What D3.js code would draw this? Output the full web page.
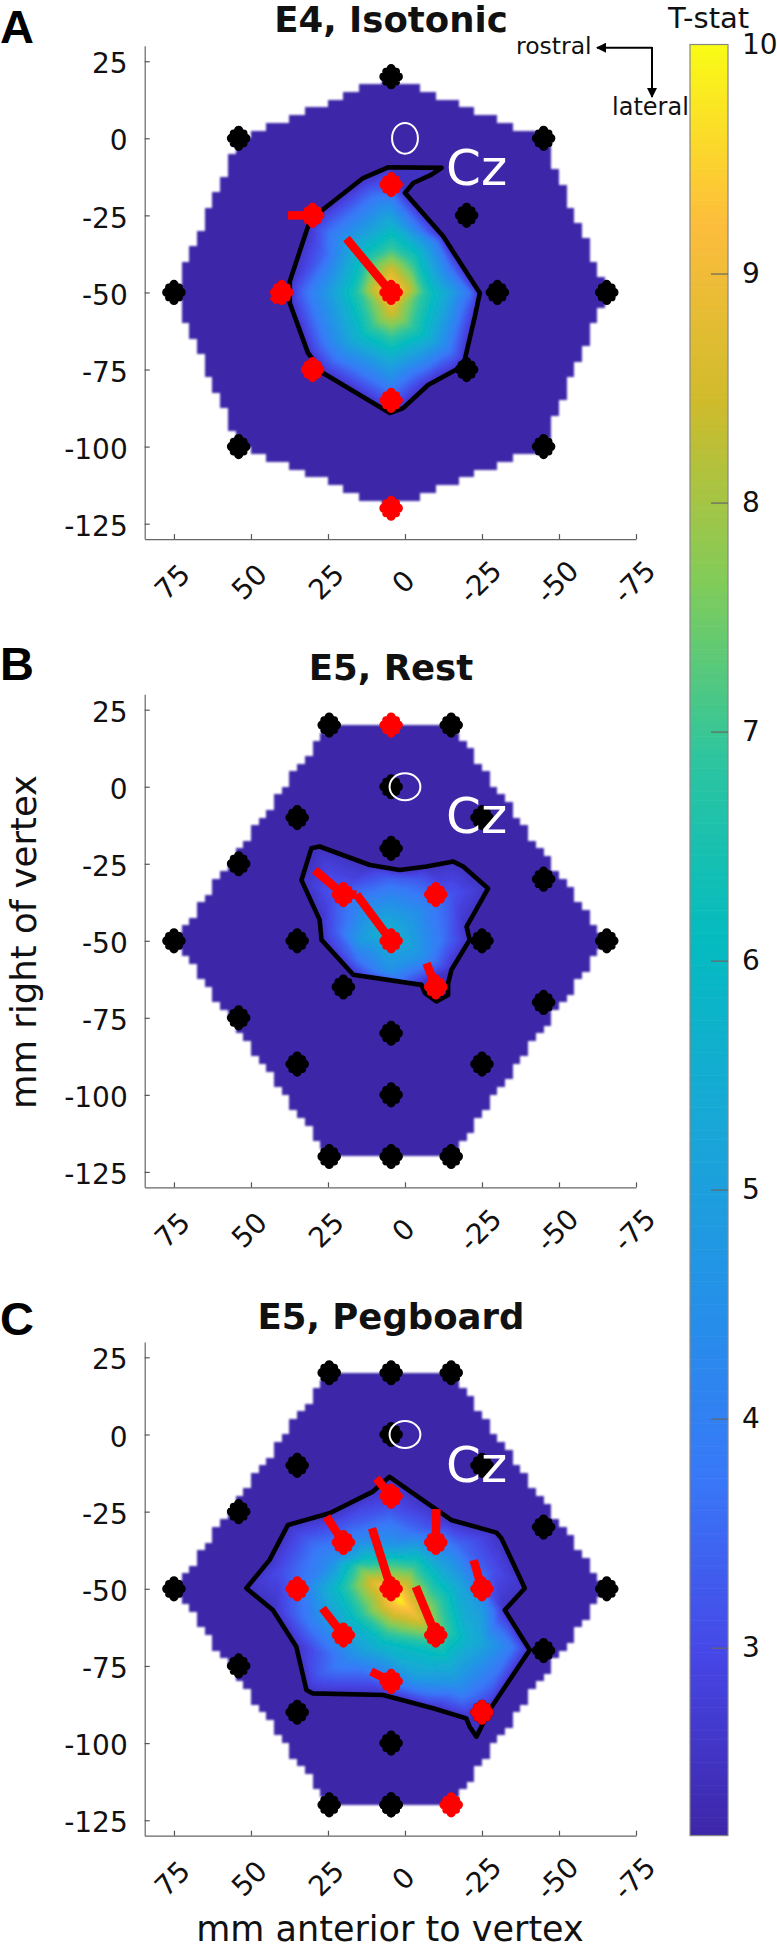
<!DOCTYPE html>
<html><head><meta charset="utf-8">
<style>html,body{margin:0;padding:0;background:#fff}svg{display:block}text{font-family:"DejaVu Sans",sans-serif;fill:#111}</style>
<script src="https://cdn.jsdelivr.net/npm/d3@7"></script>
</head><body><svg id="c" width="777" height="1950"></svg>
<script>
const xTicks=[75,50,25,0,-25,-50,-75];
const yTicks=[25,0,-25,-50,-75,-100,-125];
const cbarTicks=[3,4,5,6,7,8,9,10];
const cbarMin=2.18, cbarMax=10;
const parulaStops=["#3e26a8","#4646e6","#3878f8","#2491e8","#18a8d6","#04bbc0","#2cc5a0","#81cc59","#cfbb2b","#fdbd3c","#f9fb15"];

// Panel A
const blackA=[[4.5,20],[54,0],[-45,0],[-20,-25],[75,-50],[-30,-50],[-65.5,-50],[-20,-75],[54,-100],[-45,-100]];
const redA=[[4.5,-15],[30,-25],[4.5,-50],[40,-50],[30,-75],[4.5,-85],[4.5,-120]];
const arrowsA=[[[30,-25],[38,-25]],[[4.5,-50],[19,-32.5]],[[40,-50],[43,-53]]];
const contourA=[[5.5,-9.4],[-11.9,-9.6],[-8.6,-11.8],[-2.7,-14.5],[0,-17.7],[-12.4,-31.8],[-24.3,-50.2],[-22.7,-57.7],[-19.4,-71.8],[-16.7,-75],[-7.5,-80],[0.6,-87.5],[4.9,-89.1],[26.6,-76.1],[31.5,-69.6],[37.4,-53.4],[37.4,-46.4],[31.5,-28.6],[26.6,-23.1],[13.6,-12.9]];
const tstatA=[[4.5,-49,9.5],[4.5,-43,8.6],[4.5,-56,8.6],[10,-49,8.5],[-1,-49,8.5],[4.5,-36,7],[4.5,-28,5.6],[4.5,-19,3.9],[4.5,-64,7],[4.5,-72,5.4],[4.5,-81,3.9],[16,-50,6.6],[24,-50,5],[32,-50,3.7],[-7,-50,6.6],[-15,-50,5],[-21,-50,3.7],[14,-37,6],[-4,-37,6],[14,-64,6],[-6,-64,6],[22,-32,4.2],[-10,-34,4],[24,-66,4.2],[-14,-68,4],[26,-38,3.5],[-15,-42,3.6]];

// Panel B
const blackBC=[[24.6,20],[-15,20],[4.5,0],[35,-10],[-25,-10],[54,-25],[-45,-30],[75,-50],[-65.5,-50],[54,-75],[-45,-70],[35,-90],[-25,-90],[4.5,-100],[24.6,-120],[4.5,-120]];
const blackB=[[4.5,-20],[35,-50],[-25,-50],[20,-65],[4.5,-80],[-15,-120]];
const redB=[[4.5,20],[20,-35],[-10,-35],[4.5,-50],[-10,-65]];
const arrowsB=[[[4.5,-50],[15.7,-35]],[[15.7,-35],[20,-35]],[[20,-35],[29.3,-27]],[[-10,-65],[-7,-57.3]]];
const contourB=[[30.4,-20],[27.7,-19.4],[11.4,-25.4],[1.7,-27],[-7,-25.9],[-15.7,-24.3],[-18.9,-25.9],[-27,-33],[-20,-45.4],[-21,-49.7],[-15.1,-59.4],[-14,-63.8],[-14,-67.6],[-10.2,-69.7],[-6.5,-67],[-5.4,-64.3],[16.8,-61],[27.1,-49.7],[27.7,-43.2],[33.6,-30.3]];
const tstatB=[[7,-47,5.7],[0,-50,5.3],[15,-50,4.8],[22,-47,3.4],[5,-60,4.5],[-5,-55,4.6],[-12,-50,3.7],[-5,-40,4.3],[5,-37,4.4],[15,-38,4.1],[22,-35,3.3],[-5,-30,3.2],[5,-30,3.4],[-15,-35,3.2],[15,-57,3.6]];

// Panel C
const blackC=[[4.5,20],[4.5,-120]];
const redC=[[4.5,-20],[20,-35],[-10,-35],[35,-50],[4.5,-50],[-25,-50],[20,-65],[-10,-65],[4.5,-80],[-25,-90],[-15,-120]];
const arrowsC=[[[4.5,-20],[9.3,-14.2]],[[20,-35],[25.5,-26.6]],[[-10,-35],[-10.2,-24.2]],[[4.5,-50],[10.7,-30.4]],[[-25,-50],[-22.3,-40.7]],[[-10,-65],[-3.5,-49.3]],[[20,-65],[26.8,-56.3]],[[4.5,-80],[11,-76.8]]];
const contourC=[[5,-13.7],[-8,-22.8],[-15,-27.7],[-29.7,-31.8],[-31.3,-33.6],[-38.9,-49.8],[-32.4,-56.9],[-40.5,-69.8],[-27.5,-89.2],[-23.2,-97.9],[-21,-94.7],[-19.9,-92],[-9.1,-88.7],[7.1,-84.4],[29.9,-83.9],[32,-82.8],[35.3,-68.7],[42.9,-56.9],[51.5,-49.8],[44,-40.7],[38,-29.3],[24.5,-25.5],[10.4,-18.5]];
const tstatC=[[1.7,-53.6,9.9],[6,-50,9.2],[-2,-57,9.2],[10,-48,8.8],[-3.7,-59,8.9],[14.7,-43,7.2],[22.3,-50,6],[-20,-66.6,5.7],[-12.4,-70,6.3],[-3.7,-41.7,6.6],[4,-41.7,6.9],[12.5,-39.6,5.9],[23.4,-40.7,4.4],[34,-49,3.7],[39.6,-44,3.1],[18,-60,5.8],[28.8,-60,4.2],[7,-67.6,6],[18,-73,4.2],[28.8,-78,3.2],[-3.7,-78.5,5],[-17.8,-81.7,4.4],[-28.6,-80.6,3.5],[-34,-68.7,4],[-25,-67.6,5.2],[-25,-57,4.9],[-17.8,-49,5.2],[-11.3,-44,5.5],[-23,-47,3.9],[-28.6,-44,3.1],[-17.8,-36,3.5],[-3.7,-31,3.5],[5,-24.5,3.2],[18,-30,3.4],[4,-36,4.7],[14.7,-33,4],[-9,-38.5,4.8]];

const contourEdgeT=2.5;
const czCentre=[0,0];

const panels=[
 {letter:"A",letterY:43,title:"E4, Isotonic",titleY:32,yRange:[45.8,539.1],black:blackA,red:redA,arrows:arrowsA,contour:contourA,tstat:tstatA,czY:184.5,rx:4.2,ry:5},
 {letter:"B",letterY:680,title:"E5, Rest",titleY:680,yRange:[694.3,1187.3],black:blackBC.concat(blackB),red:redB,arrows:arrowsB,contour:contourB,tstat:tstatB,czY:833,rx:5,ry:4.4},
 {letter:"C",letterY:1335,title:"E5, Pegboard",titleY:1329,yRange:[1341.9,1835.7],black:blackBC.concat(blackC),red:redC,arrows:arrowsC,contour:contourC,tstat:tstatC,czY:1481.5,rx:5,ry:4.4}
];

const svg=d3.select("#c");
const defs=svg.append("defs");
defs.append("filter").attr("id","soft").attr("x","-5%").attr("y","-5%").attr("width","110%").attr("height","110%")
  .append("feGaussianBlur").attr("stdDeviation",0.9);
const x=d3.scaleLinear().domain([84.5,-75]).range([144.7,636]);
const tNorm=d3.scaleLinear().domain([cbarMin,cbarMax]).range([0,1]).clamp(true);
const parula=d3.scaleSequential(d3.piecewise(d3.interpolateRgb,parulaStops));
const color=v=>parula(tNorm(v));

const blob={draw(ctx){
  const lobes=[[0,0,7.5],[-7,0,4.8],[7,0,4.8],[0,-8,4.6],[0,8,4.6],[-5,-5,3.9],[5,-5,3.9],[-5,5,3.9],[5,5,3.9]];
  lobes.forEach(([a,b,r])=>{ctx.moveTo(a+r,b);ctx.arc(a,b,r,0,2*Math.PI);});
}};
const blobPath=d3.symbol().type(blob)();

function styleAxis(g){
  g.selectAll("path.domain").attr("stroke","#666").attr("stroke-width",1.2);
  g.selectAll(".tick line").attr("stroke","#555").attr("stroke-width",1.2);
  g.selectAll("text").attr("font-family",'"DejaVu Sans",sans-serif').attr("font-size",28).attr("fill","#111");
}

panels.forEach(p=>{
  const y=d3.scaleLinear().domain([30,-130]).range(p.yRange);
  const g=svg.append("g");
  const all=p.black.concat(p.red);
  const hull=d3.polygonHull(all);
  let base="";const st=2.5;
  for(let gx=-80;gx<85;gx+=st)for(let gy=25;gy>-130;gy-=st){
    if(d3.polygonContains(hull,[gx+st/2,gy-st/2])){
      const a=Math.round(x(gx+st)),b=Math.round(x(gx)),c=Math.round(y(gy)),d=Math.round(y(gy-st));
      base+=`M${a},${c}H${b}V${d}H${a}Z`;
    }
  }
  const heat=g.append("g").attr("filter","url(#soft)");
  heat.append("path").attr("d",base).attr("fill",color(cbarMin));
  const nodes=p.tstat.concat(p.contour.map(c=>[c[0],c[1],contourEdgeT]));
  const del=d3.Delaunay.from(nodes,d=>d[0],d=>d[1]);
  const tri=del.triangles;
  function field(px,py){
    const n=del.find(px,py);
    let best=null;
    const test=(i)=>{
      const A=nodes[tri[i]],B=nodes[tri[i+1]],C=nodes[tri[i+2]];
      const D=(B[1]-C[1])*(A[0]-C[0])+(C[0]-B[0])*(A[1]-C[1]);
      const l1=((B[1]-C[1])*(px-C[0])+(C[0]-B[0])*(py-C[1]))/D;
      const l2=((C[1]-A[1])*(px-C[0])+(A[0]-C[0])*(py-C[1]))/D;
      const l3=1-l1-l2;
      if(l1>=-1e-6&&l2>=-1e-6&&l3>=-1e-6){best=l1*A[2]+l2*B[2]+l3*C[2];return true;}
      return false;
    };
    for(let i=0;i<tri.length;i+=3){if(tri[i]===n||tri[i+1]===n||tri[i+2]===n){if(test(i))return best;}}
    for(let i=0;i<tri.length;i+=3){if(test(i))return best;}
    return contourEdgeT;
  }
  const bins=new Map();
  const [x0,x1]=d3.extent(p.contour,d=>d[0]);
  const [y0,y1]=d3.extent(p.contour,d=>d[1]);
  const step=2;
  for(let px=Math.floor(x(x1));px<x(x0);px+=step)for(let py=Math.floor(y(y1));py<y(y0);py+=step){
    const dx=x.invert(px+step/2),dy=y.invert(py+step/2);
    if(!d3.polygonContains(p.contour,[dx,dy]))continue;
    const k=Math.round(field(dx,dy)*40)/40;
    if(!bins.has(k))bins.set(k,"");
    bins.set(k,bins.get(k)+`M${px},${py}h${step}v${step}h${-step}Z`);
  }
  heat.append("g").attr("shape-rendering","crispEdges").selectAll("path").data([...bins]).join("path")
    .attr("d",d=>d[1]).attr("fill",d=>color(d[0]));
  g.append("path").attr("d",d3.line().x(d=>x(d[0])).y(d=>y(d[1])).curve(d3.curveLinearClosed)(p.contour))
    .attr("fill","none").attr("stroke","#000").attr("stroke-width",4.6).attr("stroke-linejoin","round");
  g.append("g").selectAll("path").data(p.black).join("path")
    .attr("d",blobPath).attr("fill","#000").attr("transform",d=>`translate(${x(d[0])},${y(d[1])})`);
  g.append("g").selectAll("line").data(p.arrows).join("line")
    .attr("x1",d=>x(d[0][0])).attr("y1",d=>y(d[0][1])).attr("x2",d=>x(d[1][0])).attr("y2",d=>y(d[1][1]))
    .attr("stroke","#ff0000").attr("stroke-width",8.5);
  g.append("g").selectAll("path").data(p.red).join("path")
    .attr("d",blobPath).attr("fill","#ff0000").attr("transform",d=>`translate(${x(d[0])},${y(d[1])})`);
  g.append("ellipse").attr("cx",x(czCentre[0])).attr("cy",y(czCentre[1]))
    .attr("rx",x(0)-x(p.rx)).attr("ry",y(-p.ry)-y(0))
    .attr("fill","none").attr("stroke","#fff").attr("stroke-width",2);
  g.append("text").attr("x",446).attr("y",p.czY).attr("font-size",50).style("fill","#fff").text("Cz");
  const ay=g.append("g").attr("transform",`translate(${x.range()[0]},0)`)
    .call(d3.axisLeft(y).tickValues(yTicks).tickSizeInner(-5).tickSizeOuter(0).tickPadding(17).tickFormat(String));
  styleAxis(ay);
  ay.selectAll(".tick text").attr("dy","0.38em").attr("transform","translate(0,1)");
  const ax=g.append("g").attr("transform",`translate(0,${p.yRange[1]})`)
    .call(d3.axisBottom(x).tickValues(xTicks).tickSizeInner(-5).tickSizeOuter(0).tickFormat(String));
  styleAxis(ax);
  ax.selectAll(".tick text").attr("y",null).attr("dy",null).attr("text-anchor","middle")
    .attr("dominant-baseline","central").attr("transform","translate(-2,43) rotate(-45)");
  svg.append("text").attr("x",391).attr("y",p.titleY).attr("text-anchor","middle")
    .attr("font-size",35.5).attr("font-weight","bold").text(p.title);
  svg.append("text").attr("x",0).attr("y",p.letterY).attr("font-size",47).attr("font-weight","bold")
    .style("font-family",'"Liberation Sans",Arial,sans-serif').style("fill","#000").text(p.letter);
});

svg.append("text").attr("transform","translate(36,942) rotate(-90)").attr("text-anchor","middle").attr("font-size",35.5).text("mm right of vertex");
svg.append("text").attr("x",390).attr("y",1941).attr("text-anchor","middle").attr("font-size",35).text("mm anterior to vertex");

const cy=d3.scaleLinear().domain([cbarMax,3]).range([44.5,1647.7]);
const cbLeft=690,cbRight=728,cbBottom=1835.5;
svg.append("g").selectAll("rect").data(d3.range(cbarMin,cbarMax,0.02)).join("rect")
  .attr("x",cbLeft).attr("width",cbRight-cbLeft).attr("y",d=>cy(d+0.02)).attr("height",d=>cy(d)-cy(d+0.02)+0.6)
  .attr("fill",d=>color(d+0.01));
svg.append("rect").attr("x",cbLeft).attr("y",44.5).attr("width",cbRight-cbLeft).attr("height",cbBottom-44.5)
  .attr("fill","none").attr("stroke","#888").attr("stroke-width",1.2);
const cbAxis=svg.append("g").attr("transform",`translate(${cbRight},0)`)
  .call(d3.axisRight(cy).tickValues(cbarTicks).tickSizeInner(-17).tickSizeOuter(0).tickPadding(14).tickFormat(String));
cbAxis.select("path.domain").remove();
cbAxis.selectAll(".tick line").attr("stroke","#666").attr("stroke-width",1.2);
cbAxis.selectAll("text").attr("font-size",28).attr("font-family",'"DejaVu Sans",sans-serif').attr("fill","#111");
cbAxis.selectAll(".tick").filter(d=>d===10).select("line").remove();
svg.append("text").attr("x",668).attr("y",28).attr("font-size",29).text("T-stat");

defs.append("marker").attr("id","ah").attr("viewBox","0 0 10 10").attr("refX",9).attr("refY",5)
  .attr("markerWidth",5).attr("markerHeight",5).attr("orient","auto")
  .append("path").attr("d","M0,0L10,5L0,10Z").attr("fill","#000");
svg.append("line").attr("x1",652).attr("y1",47.7).attr("x2",597).attr("y2",47.7).attr("stroke","#000").attr("stroke-width",2).attr("marker-end","url(#ah)");
svg.append("line").attr("x1",652).attr("y1",47).attr("x2",652).attr("y2",97).attr("stroke","#000").attr("stroke-width",2).attr("marker-end","url(#ah)");
svg.append("text").attr("x",516).attr("y",54).attr("font-size",23.5).text("rostral");
svg.append("text").attr("x",612).attr("y",115).attr("font-size",24).text("lateral");
</script></body></html>
